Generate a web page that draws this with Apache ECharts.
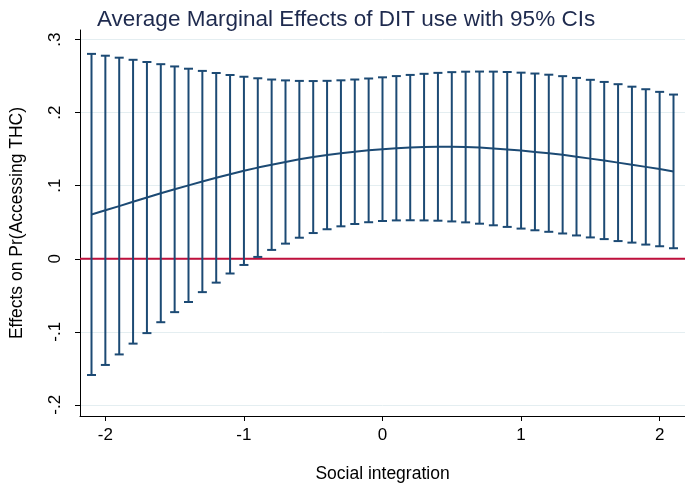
<!DOCTYPE html>
<html>
<head>
<meta charset="utf-8">
<script src="https://cdn.jsdelivr.net/npm/echarts@6/dist/echarts.min.js"></script>
<style>
html,body{margin:0;padding:0;background:#fff;}
#chart{width:685px;height:488px;}
</style>
</head>
<body>
<div id="chart"></div>
<script>
const titleText = 'Average Marginal Effects of DIT use with 95% CIs';
const xName = 'Social integration';
const yName = 'Effects on Pr(Accessing THC)';

const xVals = [-2.1,-2.0,-1.9,-1.8,-1.7,-1.6,-1.5,-1.4,-1.3,-1.2,-1.1,-1.0,-0.9,-0.8,-0.7,-0.6,-0.5,-0.4,-0.3,-0.2,-0.1,0,0.1,0.2,0.3,0.4,0.5,0.6,0.7,0.8,0.9,1.0,1.1,1.2,1.3,1.4,1.5,1.6,1.7,1.8,1.9,2.0,2.1];
const meanVals = [0.0607,0.0663,0.0721,0.0781,0.0838,0.0897,0.0951,0.1005,0.1057,0.1108,0.1157,0.1204,0.1248,0.1288,0.1325,0.1361,0.1393,0.1420,0.1443,0.1465,0.1484,0.1500,0.1513,0.1522,0.1529,0.1533,0.1533,0.1530,0.1522,0.1510,0.1497,0.1481,0.1463,0.1445,0.1423,0.1398,0.1371,0.1345,0.1316,0.1288,0.1258,0.1228,0.1196];
const lowerVals = [-0.1592,-0.1454,-0.1310,-0.1162,-0.1018,-0.0869,-0.0731,-0.0592,-0.0457,-0.0327,-0.0202,-0.0085,0.0025,0.0121,0.0207,0.0288,0.0352,0.0404,0.0444,0.0476,0.0500,0.0517,0.0525,0.0527,0.0525,0.0521,0.0511,0.0498,0.0480,0.0458,0.0436,0.0413,0.0390,0.0369,0.0346,0.0319,0.0292,0.0269,0.0242,0.0221,0.0194,0.0171,0.0144];
const upperVals = [0.2805,0.2780,0.2753,0.2724,0.2694,0.2664,0.2633,0.2602,0.2572,0.2543,0.2516,0.2492,0.2471,0.2454,0.2442,0.2435,0.2433,0.2436,0.2443,0.2454,0.2468,0.2484,0.2501,0.2517,0.2532,0.2545,0.2555,0.2561,0.2563,0.2562,0.2557,0.2548,0.2536,0.2520,0.2500,0.2476,0.2450,0.2421,0.2390,0.2356,0.2321,0.2285,0.2248];

const xTicks = [-2,-1,0,1,2];
const xTickLabels = ['-2','-1','0','1','2'];
const yTicks = [-0.2,-0.1,0,0.1,0.2,0.3];
const yTickLabels = ['-.2','-.1','0','.1','.2','.3'];

const navy = '#1c4a74';
const FONT = '"Liberation Sans", Arial, sans-serif';

function labelFor(ticks, labels, v){
  for (let i=0;i<ticks.length;i++){ if (Math.abs(ticks[i]-v) < 1e-6) return labels[i]; }
  return '';
}

const ciData = xVals.map((x,i)=>[x, lowerVals[i], upperVals[i]]);
const meanData = xVals.map((x,i)=>[x, meanVals[i]]);

const chart = echarts.init(document.getElementById('chart'), null, {renderer:'canvas'});
chart.setOption({
  animation:false,
  backgroundColor:'#fff',
  title:{
    text:titleText, left:92, top:3,
    textStyle:{fontFamily:FONT, fontSize:22.5, fontWeight:'normal', color:'#1e2a4e'}
  },
  grid:{left:74, right:0, top:30, bottom:65, containLabel:false},
  xAxis:{
    type:'value', min:-2.183, max:2.183,
    name:xName, nameLocation:'middle', nameGap:49,
    nameTextStyle:{fontFamily:FONT, fontSize:17.5, color:'#000'},
    axisLine:{onZero:false, lineStyle:{color:'#000', width:1}},
    axisTick:{show:true, length:5, lineStyle:{color:'#000'}, customValues:xTicks},
    axisLabel:{fontFamily:FONT, fontSize:17, color:'#000', margin:11, customValues:xTicks,
      formatter:v=>labelFor(xTicks,xTickLabels,v)},
    splitLine:{show:false}
  },
  yAxis:{
    type:'value', min:-0.2153, max:0.3132,
    name:yName, nameLocation:'middle', nameGap:54,
    nameTextStyle:{fontFamily:FONT, fontSize:17.5, color:'#000'},
    axisLine:{show:true, onZero:false, lineStyle:{color:'#000', width:1}},
    axisTick:{show:true, length:5, lineStyle:{color:'#000'}, customValues:yTicks},
    axisLabel:{fontFamily:FONT, fontSize:17, color:'#000', margin:16, rotate:90, customValues:yTicks,
      formatter:v=>labelFor(yTicks,yTickLabels,v)},
    splitLine:{show:true, lineStyle:{color:'#e4eef1', width:1}}
  },
  series:[
    {
      type:'line', data:[[-2.183,0],[2.183,0]], symbol:'none', z:1,
      lineStyle:{color:'#c0103c', width:2}, silent:true
    },
    {
      type:'custom', z:3,
      data:ciData,
      encode:{x:0, y:[1,2]},
      renderItem:function(params, api){
        const x = api.value(0), lo = api.value(1), hi = api.value(2);
        const pLo = api.coord([x, lo]), pHi = api.coord([x, hi]);
        const w = 4.5;
        const st = {stroke:navy, lineWidth:2};
        return {type:'group', children:[
          {type:'line', shape:{x1:pLo[0], y1:pLo[1], x2:pHi[0], y2:pHi[1]}, style:st},
          {type:'line', shape:{x1:pLo[0]-w, y1:pLo[1], x2:pLo[0]+w, y2:pLo[1]}, style:st},
          {type:'line', shape:{x1:pHi[0]-w, y1:pHi[1], x2:pHi[0]+w, y2:pHi[1]}, style:st}
        ]};
      }
    },
    {
      type:'line', data:meanData, symbol:'none', z:4,
      lineStyle:{color:navy, width:2}
    }
  ]
});
</script>
</body>
</html>
